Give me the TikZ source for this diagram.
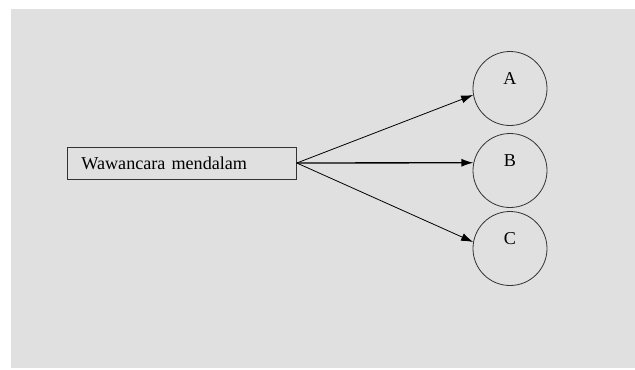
\documentclass[tikz,border=0pt]{standalone}
\usepackage{fontspec}
\setmainfont{Liberation Serif}
\usetikzlibrary{arrows.meta}
\definecolor{latar}{HTML}{E0E0E0}
\definecolor{garis}{HTML}{333333}
\begin{document}
\begin{tikzpicture}[x=0.75pt,y=-0.75pt,
    kotak/.style={draw=garis,line width=0.6pt,minimum height=24pt,text width=150.75pt,
        inner xsep=10.5pt,align=left,anchor=west,font=\fontsize{13.6}{15}\selectfont},
    bulat/.style={draw=garis,circle,minimum size=55.5pt,inner sep=0pt,line width=0.6pt,
        text depth=15pt,font=\fontsize{13.6}{15}\selectfont},
    panah/.style={-{Latex[length=9pt,width=6pt]},line width=0.6pt}]
    \useasboundingbox (0,0) rectangle (635,369);
    \fill[latar] (11,9) rectangle (635,368);
    \node[kotak] (wawancara) at (67,163) {Wawancara mendalam};
    \node[bulat] (A) at (510,88.5) {A};
    \node[bulat] (B) at (510,170.5) {B};
    \node[bulat] (C) at (510,248.5) {C};
    \draw[panah] (wawancara.east) -- (A.190);
    \draw[panah,line width=1pt] (wawancara.east) -- (B.168);
    \draw[panah] (wawancara.east) -- (C.170);
\end{tikzpicture}
\end{document}
